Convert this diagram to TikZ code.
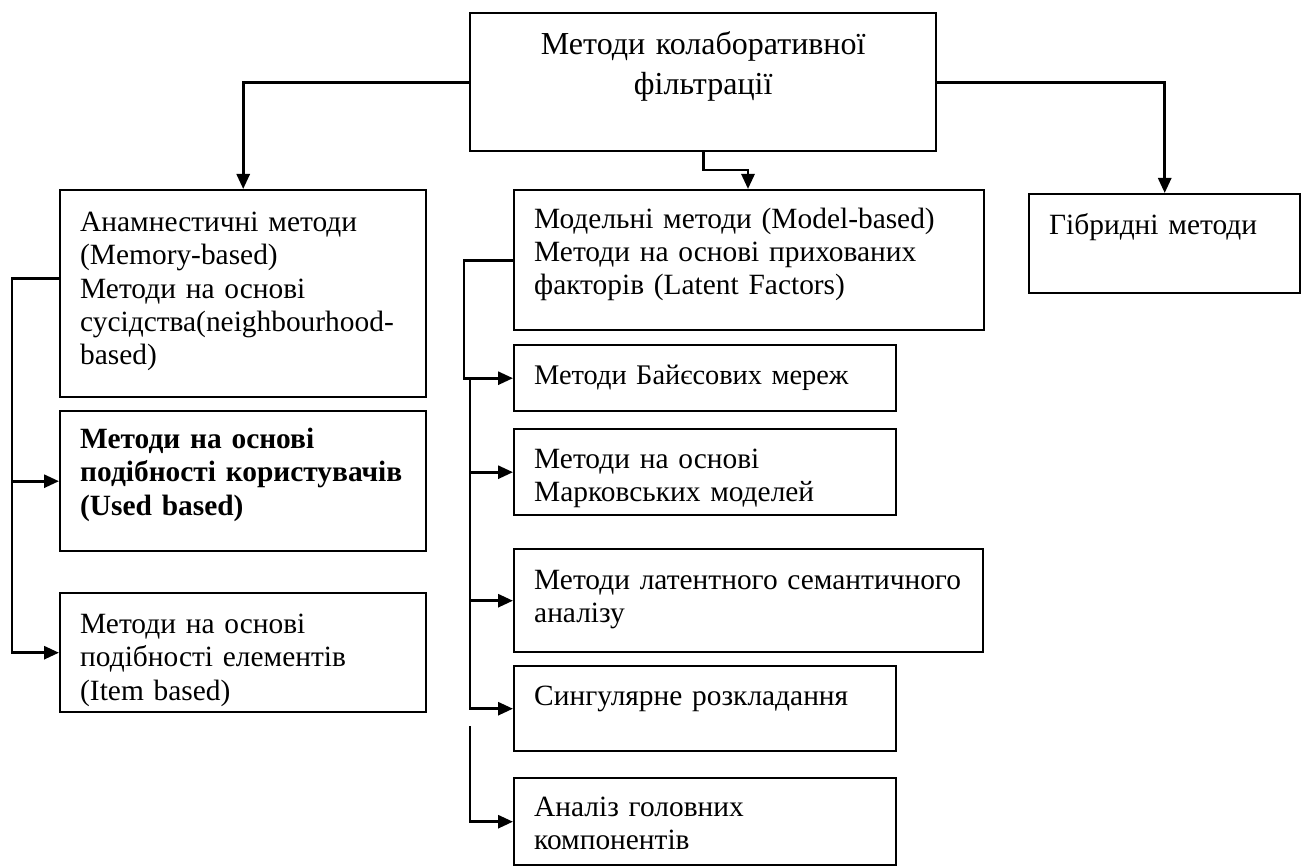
\documentclass[tikz,border=0pt]{standalone}
\usepackage{fontspec}
\setmainfont{Liberation Serif}
\usetikzlibrary{arrows.meta}
\begin{document}
\begin{tikzpicture}[x=0.5pt,y=-0.5pt,>={Triangle[length=7.5pt,width=6.5pt]},
  blk/.style n args={3}{draw,line width=1.2pt,anchor=north west,align=left,
    inner xsep=10pt,inner ysep=0pt,text width=#1,text height=#2,text depth=#3,
    font=\fontsize{14.7}{16.7}\selectfont},
  link/.style={line width=1.4pt}]
\useasboundingbox (0,0) rectangle (1305,866);
% верхній блок
\node[blk={213pt}{20.5pt}{48.5pt},align=center,font=\fontsize{16}{20}\selectfont] (coll) at (469,12)
  {Методи колаборативної\\фільтрації};
% ліва колонка
\node[blk={163pt}{20.5pt}{83pt}] (mem) at (59,189)
  {Анамнестичні методи\\(Memory-based)\\Методи на основі\\сусідства(neighbourhood-\\based)};
\node[blk={163pt}{18.5pt}{51.5pt},font=\fontsize{14.7}{16.7}\selectfont\bfseries] (user) at (59,410)
  {Методи на основі\\подібності~користувачів\\(Used based)};
\node[blk={163pt}{20pt}{39.5pt}] (item) at (59,592)
  {Методи на основі\\подібності елементів\\(Item based)};
% середня колонка
\node[blk={215pt}{19pt}{51pt}] (model) at (513,189)
  {Модельні методи (Model-based)\\Методи на основі прихованих\\факторів (Latent Factors)};
\node[blk={171pt}{19.5pt}{13.5pt},font=\fontsize{14.2}{16.7}\selectfont] (bayes) at (513,344)
  {Методи Байєсових~мереж};
\node[blk={171pt}{19.5pt}{23.5pt}] (markov) at (513,428) {Методи на основі\\Марковських моделей};
\node[blk={214.5pt}{20pt}{31.5pt}] (latent) at (513,548) {Методи латентного~семантичного\\аналізу};
\node[blk={171pt}{19.5pt}{23pt}] (svd) at (513,665) {Сингулярне розкладання};
\node[blk={171pt}{19pt}{24.5pt}] (pca) at (513,777) {Аналіз головних\\компонентів};
% права колонка
\node[blk={115.5pt}{20pt}{29.5pt}] (hyb) at (1028,193) {Гібридні методи};
% зв'язки від верхнього блоку
\draw[link,->] (coll.west) -| (mem.north);
\draw[link,->] (coll.east) -| (hyb.north);
\draw[link,->] (coll.south) |- (748,170) -- (748,0 |- model.north);
% ліва гілка
\draw[link,->] ([yshift=7.5pt]mem.west) -- ++(-47,0) coordinate (lt) |- (item.west);
\draw[link,->] (lt |- user.west) -- (user.west);
% середня гілка
\draw[link,->] (model.west) -- ++(-49,0) |- (bayes.west);
\draw[link,->] (470,0 |- bayes.west) |- (svd.west);
\draw[link,->] (470,0 |- markov.west) -- (markov.west);
\draw[link,->] (470,0 |- latent.west) -- (latent.west);
\draw[link,->] (470,726) |- (pca.west);
\end{tikzpicture}
\end{document}
